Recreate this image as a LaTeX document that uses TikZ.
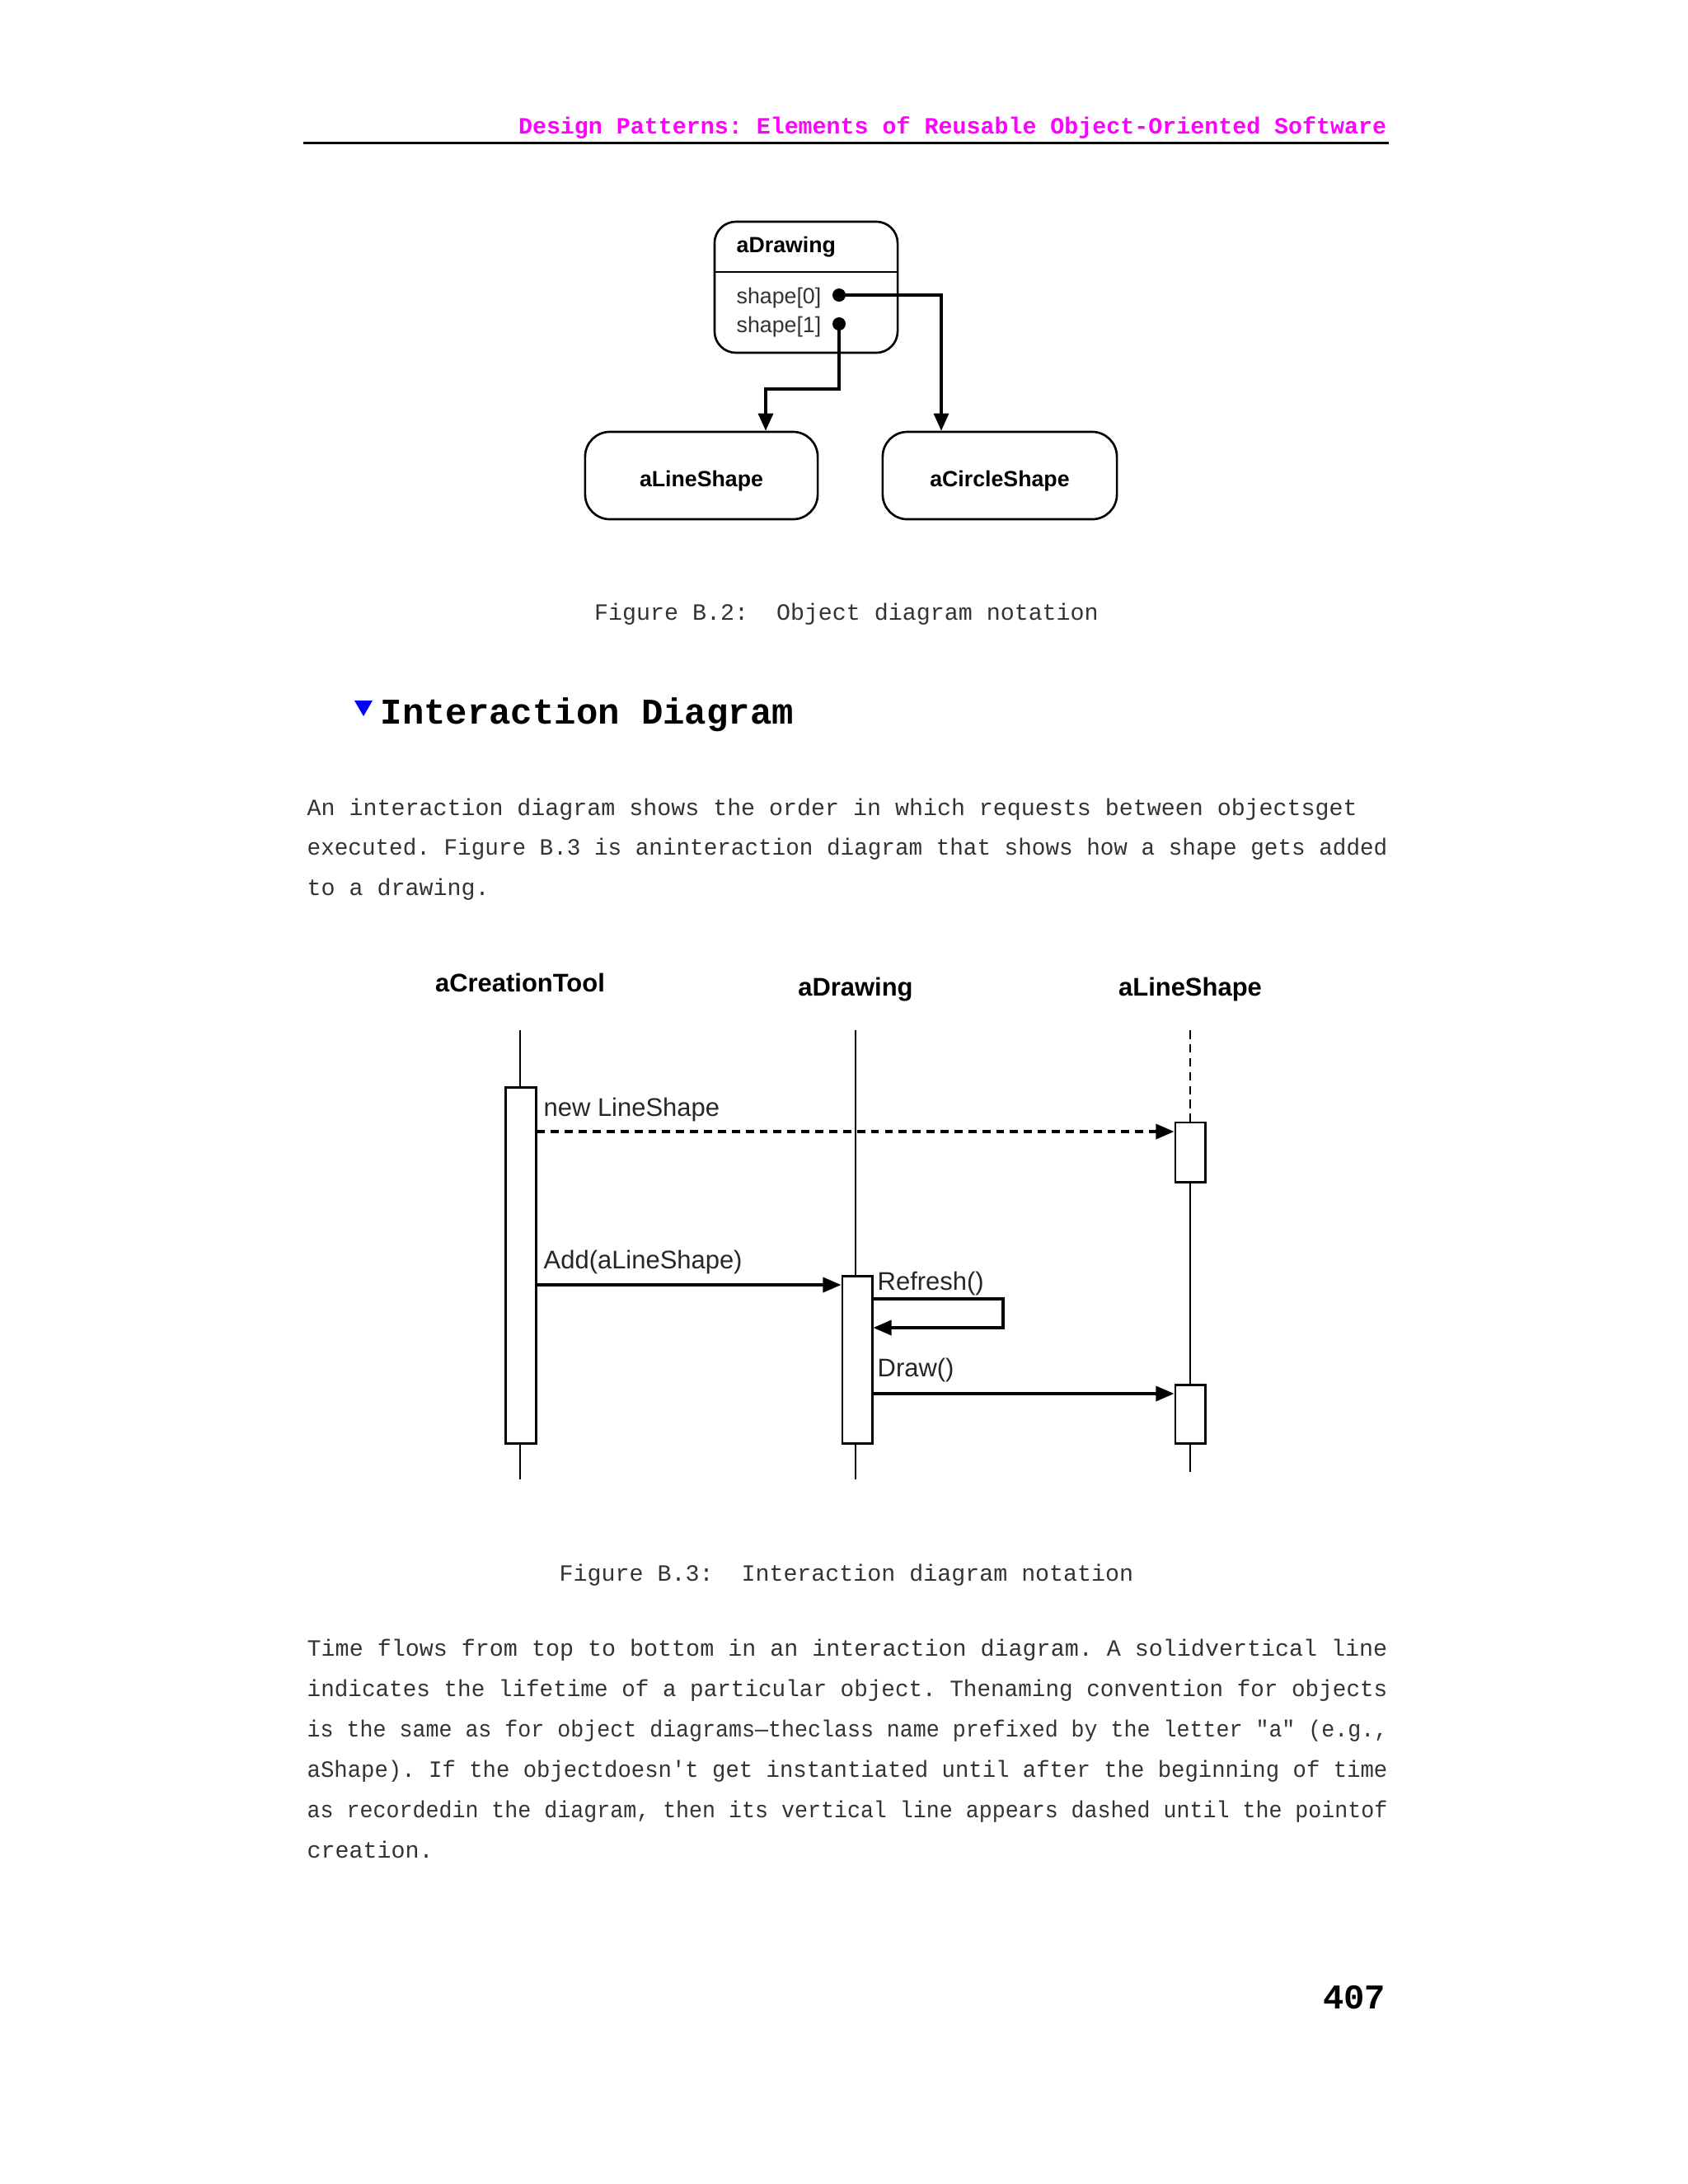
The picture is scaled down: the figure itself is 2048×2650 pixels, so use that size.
\documentclass[tikz,border=0pt]{standalone}
\usepackage{fontspec}
\usepackage{graphicx}
\usepackage{xcolor}
\usetikzlibrary{arrows.meta}

\newfontfamily\courier{Liberation Mono}
\newfontfamily\helv{Liberation Sans}
\newcommand\fitline[1]{\resizebox{13.1cm}{\height}{#1}}
\definecolor{hdrpink}{RGB}{255,0,255}

\tikzset{
  body/.style={inner sep=0pt, anchor=base west, text=black!80,
    font=\courier\frenchspacing\fontsize{8.05pt}{10pt}\selectfont},
  objbox/.style={draw, line width=0.75pt, rounded corners=3mm, inner sep=0pt,
    minimum height=10.6mm, text height=2.7mm, text depth=0pt,
    font=\helv\bfseries\fontsize{7.6pt}{9pt}\selectfont},
  slot/.style={inner sep=0pt, anchor=base west, text=black!80,
    font=\helv\fontsize{7.6pt}{9pt}\selectfont},
  ptr/.style={line width=0.95pt, -{Triangle[length=2.1mm,width=1.8mm]}},
  lifeline/.style={line width=0.45pt},
  actbox/.style={draw, fill=white, line width=0.85pt, inner sep=0pt, minimum width=3.6mm},
  msg/.style={line width=0.95pt, -{Triangle[length=2.2mm,width=1.8mm]}},
  msglabel/.style={inner sep=0pt, anchor=base west, text=black!85,
    font=\helv\fontsize{8.8pt}{10pt}\selectfont},
  objname/.style={inner sep=0pt, anchor=base,
    font=\helv\bfseries\fontsize{8.8pt}{10pt}\selectfont},
}

\begin{document}
\begin{tikzpicture}[x=0.01cm, y=-0.01cm]
      \fill[white] (0,0) rectangle (2048,2650);
      \useasboundingbox (0,0) rectangle (2048,2650);

      \node[inner sep=0pt, anchor=base east, text=hdrpink,
        font=\courier\bfseries\frenchspacing\fontsize{8.05pt}{10pt}\selectfont] (header) at (1683,162)
        {Design Patterns: Elements of Reusable Object-Oriented Software};
      \draw[line width=0.85pt] (368,173) -- (1685,173);

      \node[draw, line width=0.75pt, rounded corners=2.6mm, minimum width=22.2mm,
        minimum height=15.9mm] (drw) at (978,348.5) {};
      \coordinate (div) at (0,330);
      \draw[line width=0.75pt] (drw.west |- div) -- (drw.east |- div);
      \node[inner sep=0pt, anchor=base west,
        font=\helv\bfseries\fontsize{7.6pt}{9pt}\selectfont] (drwname) at (893,306) {aDrawing};
      \node[slot] (sh0) at (893,368) {shape[0]};
      \node[slot] (sh1) at (893,403) {shape[1]};

      \node[objbox, minimum width=28.2mm] (lshape) at (851,577) {aLineShape};
      \node[objbox, minimum width=28.4mm] (cshape) at (1213,577) {aCircleShape};

      \coordinate (s0) at (1018,358);
      \coordinate (s1) at (1018,393);
      \coordinate (r0) at (1142,358);
      \coordinate (bend) at (929,472);
      \fill (s0) circle[radius=0.8mm];
      \fill (s1) circle[radius=0.8mm];
      \draw[ptr] (s0) -- (r0) -- (cshape.north -| r0);
      \draw[ptr] (s1) |- (bend) -- (lshape.north -| bend);

      \node[body, anchor=base] (cap2) at (1027,752) {Figure B.2:\ \ Object diagram notation};

      \fill[blue] (430,850) -- (452,850) -- (441,869) -- cycle;
      \node[inner sep=0pt, anchor=base west,
        font=\courier\bfseries\fontsize{12.5pt}{14pt}\selectfont] (head) at (461,878)
        {Interaction Diagram};

      \node[body] (p1a) at (372,989) {An interaction diagram shows the order in which requests between objectsget};
      \node[body] (p1b) at (372,1037) {\fitline{executed. Figure B.3 is aninteraction diagram that shows how a shape gets added}};
      \node[body] (p1c) at (372,1086) {to a drawing.};

      \node[objname] (tool) at (631,1203) {aCreationTool};
      \node[objname] (drawing) at (1038,1208) {aDrawing};
      \node[objname] (line) at (1444,1208) {aLineShape};

      \coordinate (t1) at (631,1250);
      \coordinate (b1) at (631,1795);
      \coordinate (t2) at (1038,1250);
      \coordinate (b2) at (1038,1795);
      \coordinate (t3) at (1444,1250);
      \coordinate (b3) at (1444,1786);

      \draw[lifeline] (t1) -- (b1);
      \draw[lifeline] (t2) -- (b2);

      \node[actbox, minimum height=43.1mm] (act1) at (632,1535.5) {};
      \node[actbox, minimum height=20.2mm] (act2) at (1040,1650) {};
      \node[actbox, minimum height=7.2mm] (act3a) at (1444,1398) {};
      \node[actbox, minimum height=7.1mm] (act3b) at (1444,1715.5) {};

      \draw[lifeline, dash pattern=on 3pt off 1.8pt] (t3) -- (act3a.north);
      \draw[lifeline] (act3a.south) -- (act3b.north);
      \draw[lifeline] (act3b.south) -- (b3);

      \coordinate (m1) at (0,1373);
      \coordinate (m2) at (0,1559);
      \coordinate (loopa) at (1217,1576);
      \coordinate (loopb) at (1217,1611);
      \coordinate (m4) at (0,1691);

      \draw[msg, dash pattern=on 2.8pt off 2pt] (act1.east |- m1) -- (act3a.west |- m1);
      \draw[msg] (act1.east |- m2) -- (act2.west |- m2);
      \draw[msg] (act2.east |- loopa) -- (loopa) -- (loopb) -- (act2.east |- loopb);
      \draw[msg] (act2.east |- m4) -- (act3b.west |- m4);

      \node[msglabel] (lnew) at (659,1354) {new LineShape};
      \node[msglabel] (ladd) at (659,1539) {Add(aLineShape)};
      \node[msglabel] (lrefresh) at (1064,1565) {Refresh()};
      \node[msglabel] (ldraw) at (1064,1670) {Draw()};

      \node[body, anchor=base] (cap3) at (1027,1918) {Figure B.3:\ \ Interaction diagram notation};

      \node[body] (p2a) at (372,2009) {\fitline{Time flows from top to bottom in an interaction diagram. A solidvertical line}};
      \node[body] (p2b) at (372,2058) {\fitline{indicates the lifetime of a particular object. Thenaming convention for objects}};
      \node[body] (p2c) at (372,2107) {\fitline{is the same as for object diagrams—theclass name prefixed by the letter "a" (e.g.,}};
      \node[body] (p2d) at (372,2156) {\fitline{aShape). If the objectdoesn\textquotesingle t get instantiated until after the beginning of time}};
      \node[body] (p2e) at (372,2205) {\fitline{as recordedin the diagram, then its vertical line appears dashed until the pointof}};
      \node[body] (p2f) at (372,2254) {creation.};

      \node[inner sep=0pt, anchor=base east,
        font=\courier\bfseries\fontsize{12pt}{14pt}\selectfont] (pagenum) at (1682,2437) {407};
\end{tikzpicture}
\end{document}
